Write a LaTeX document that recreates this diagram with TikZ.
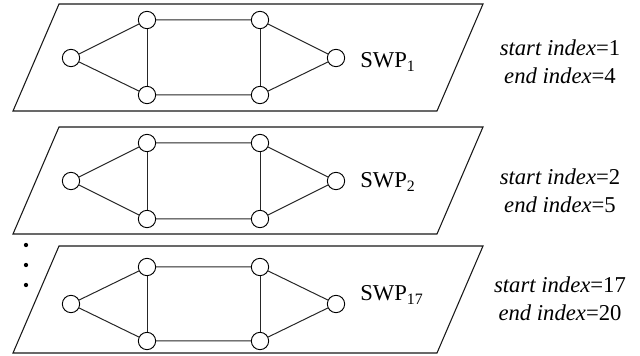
\documentclass[tikz,border=0pt]{standalone}
\usepackage{fontspec}
\setmainfont{Liberation Serif}[ItalicFont={Liberation Serif Italic}]
\begin{document}
\begin{tikzpicture}[x=0.75pt,y=-0.75pt,
        vtx/.style={draw,circle,inner sep=0pt,minimum size=13pt,line width=0.7pt},
        edge/.style={line width=0.75pt,black!85},
        plane/.style={line width=0.8pt,black!90},
        lbl/.style={font=\fontsize{17}{21}\selectfont,inner sep=0pt}]
    \useasboundingbox (0,0) rectangle (640,356);
    % one plane per window: top, node rows, label baseline, index text, subscript, start, end
    \foreach \t/\u/\m/\d/\s/\c/\n/\p/\q in {4/20/58/95/68/62/1/1/4,
                                             127/143/181/219/188/191/2/2/5,
                                             246/267/304/341/301/299/17/17/20}
        {
            \draw[plane] (59,\t) -- (483,\t) -- (437,\t+107) -- (13,\t+107) -- cycle;

            \node[vtx] (l\n)  at (71,\m) {};
            \node[vtx] (tl\n) at (147,\u) {};
            \node[vtx] (bl\n) at (147,\d) {};
            \node[vtx] (tr\n) at (260,\u) {};
            \node[vtx] (br\n) at (260,\d) {};
            \node[vtx] (r\n)  at (336,\m) {};

            \draw[edge] (l\n) -- (tl\n) -- (tr\n) -- (r\n) -- (br\n) -- (bl\n) -- (l\n);
            \draw[edge] (tl\n) -- (bl\n);
            \draw[edge] (tr\n) -- (br\n);

            \node[lbl,anchor=base west] (swp\n) at (360,\s) {SWP\textsubscript{\n}};
            \node[lbl,align=center] (idx\n) at (560,\c)
                {\textit{start index}=\p\\ \textit{end index}=\q};
        }
    % the windows left out
    \foreach \y in {245, 265, 285}
        {
            \fill (26,\y) circle (1.6pt);
        }
\end{tikzpicture}
\end{document}
